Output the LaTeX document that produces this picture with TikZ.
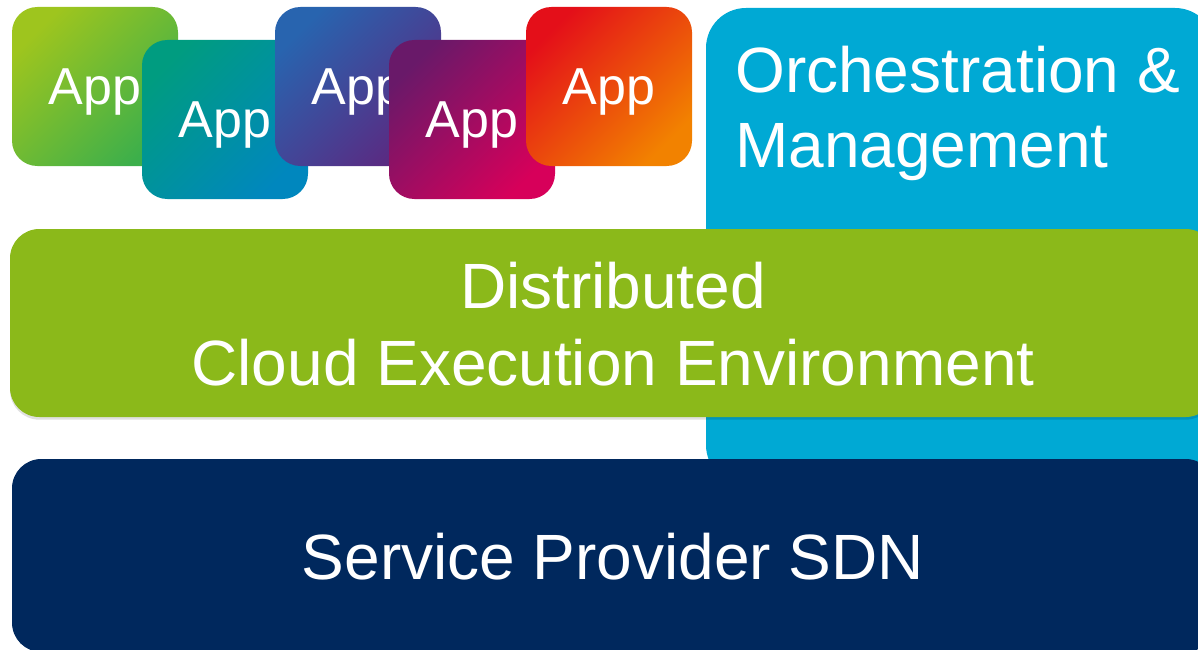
\documentclass[tikz,border=0pt]{standalone}
\usepackage{fontspec}
\setmainfont{Liberation Sans}
\usetikzlibrary{shadows}
\definecolor{barGreen}{RGB}{139,185,26}
\definecolor{orchBlue}{RGB}{0,169,212}
\definecolor{sdnNavy}{RGB}{0,40,93}
\definecolor{aOneA}{RGB}{158,197,30}
\definecolor{aOneB}{RGB}{60,175,75}
\definecolor{aTwoA}{RGB}{0,156,128}
\definecolor{aTwoB}{RGB}{0,135,190}
\definecolor{aThreeA}{RGB}{40,100,175}
\definecolor{aThreeB}{RGB}{92,40,128}
\definecolor{aFourA}{RGB}{105,25,105}
\definecolor{aFourB}{RGB}{215,0,90}
\definecolor{aFiveA}{RGB}{228,15,25}
\definecolor{aFiveB}{RGB}{242,130,0}
\tikzset{
  appbox/.style n args={2}{rectangle, rounded corners=19pt, minimum width=124.5pt,
    minimum height=119.25pt, inner sep=0pt, text depth=0pt, top color=#1, bottom color=#2,
    shading angle=45, text=white, font=\fontsize{39}{44}\selectfont},
  bigtext/.style={text=white, font=\fontsize{48}{56}\selectfont, inner sep=0pt},
  layerbox/.style={rounded corners=22pt},
}
\begin{document}
\begin{tikzpicture}[x=0.75pt,y=-0.75pt]
\useasboundingbox (0,0) rectangle (1198,649);
% orchestration column
\path[fill=orchBlue, rounded corners=30pt] (706,8) rectangle (1215,485);
\node[bigtext, anchor=north west, align=left] (orch) at (735,46) {Orchestration \&\\Management};
% apps
\node[appbox={aOneA}{aOneB}] (app1) at (95,86.5) {App};
\node[appbox={aTwoA}{aTwoB}] (app2) at (225,119.5) {App};
\node[appbox={aThreeA}{aThreeB}] (app3) at (358,86.5) {App};
\node[appbox={aFourA}{aFourB}] (app4) at (472,119.5) {App};
\node[appbox={aFiveA}{aFiveB}] (app5) at (609,86.5) {App};
% distributed cloud execution environment
\path[fill=barGreen, layerbox, drop shadow={shadow xshift=0pt, shadow yshift=-2pt, opacity=0.12, fill=black}] (10,229) rectangle (1215,417);
\node[bigtext, align=center] (dcee) at (613,324) {Distributed\\[2pt]Cloud Execution Environment};
% service provider SDN
\path[fill=sdnNavy, layerbox] (12,459) rectangle (1215,652);
\node[bigtext] (sdn) at (613,557) {Service Provider SDN};
\end{tikzpicture}
\end{document}
